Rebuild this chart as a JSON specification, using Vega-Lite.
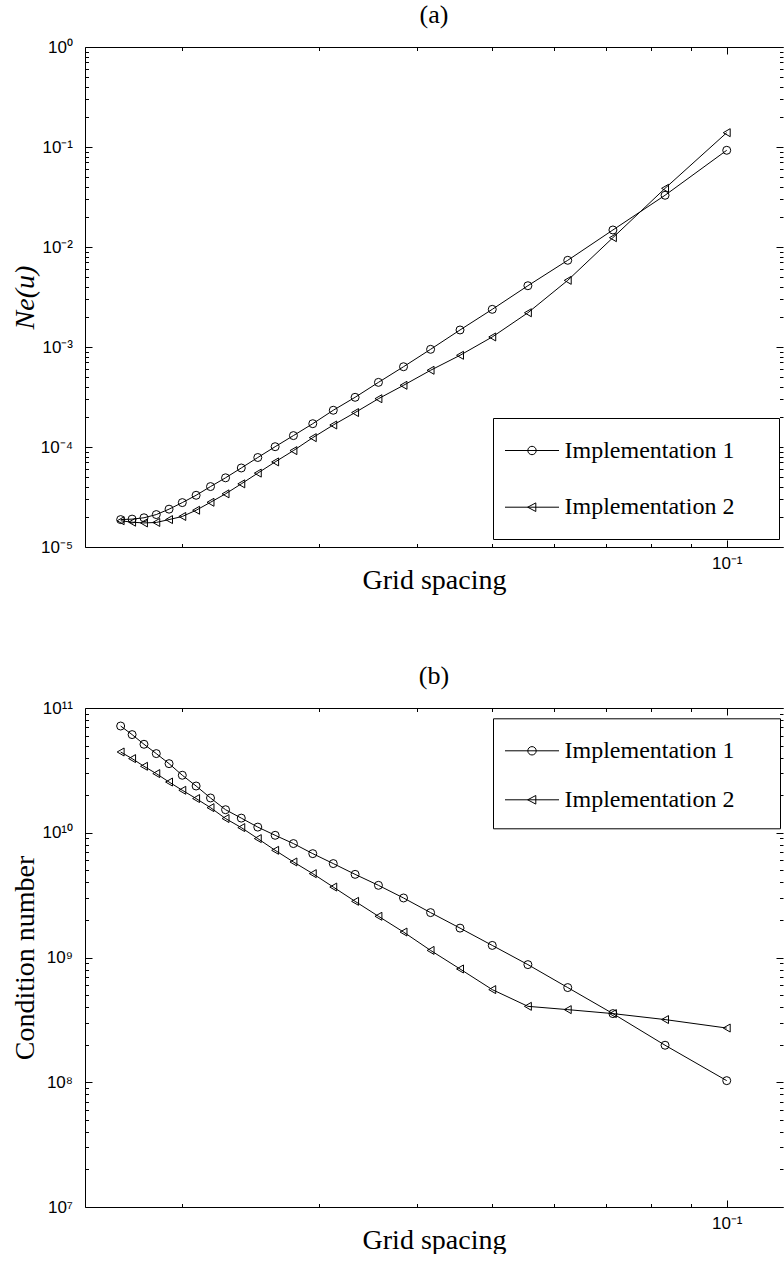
{
  "$schema": "https://vega.github.io/schema/vega-lite/v6.json",
  "padding": {"left": 11, "top": 2, "right": 0, "bottom": 0},
  "spacing": 69,
  "resolve": {"scale": {"shape": "independent"}, "legend": {"shape": "independent"}},
  "config": {
    "font": "Liberation Serif",
    "view": {"stroke": null},
    "axis": {"grid": false, "domainColor": "black", "domainWidth": 1, "tickColor": "black", "tickWidth": 1, "labelColor": "black", "labelFont": "Liberation Sans", "labelFontSize": 17, "titleColor": "black", "titleFont": "Liberation Serif", "titleFontSize": 28, "titleFontWeight": "normal"},
    "title": {"font": "Liberation Serif", "fontSize": 26, "fontWeight": "normal", "color": "black"},
    "legend": {"labelFont": "Liberation Serif", "labelFontSize": 24, "labelColor": "black", "labelLimit": 0, "strokeColor": "black", "fillColor": "white", "padding": 12, "labelOffset": 12, "symbolOffset": 6.5, "symbolSize": 1600, "symbolStrokeColor": "black", "symbolStrokeWidth": 1, "symbolFillColor": "transparent", "symbolOpacity": 1, "title": null}
  },
  "datasets": {
    "a": [
      {"h": 0.1, "impl": "Implementation 1", "v": 0.0927},
      {"h": 0.083333, "impl": "Implementation 1", "v": 0.0329},
      {"h": 0.071429, "impl": "Implementation 1", "v": 0.0148},
      {"h": 0.0625, "impl": "Implementation 1", "v": 0.00736},
      {"h": 0.055556, "impl": "Implementation 1", "v": 0.0041},
      {"h": 0.05, "impl": "Implementation 1", "v": 0.00238},
      {"h": 0.045455, "impl": "Implementation 1", "v": 0.00148},
      {"h": 0.041667, "impl": "Implementation 1", "v": 0.000948},
      {"h": 0.038462, "impl": "Implementation 1", "v": 0.000635},
      {"h": 0.035714, "impl": "Implementation 1", "v": 0.000443},
      {"h": 0.033333, "impl": "Implementation 1", "v": 0.000314},
      {"h": 0.03125, "impl": "Implementation 1", "v": 0.000233},
      {"h": 0.029412, "impl": "Implementation 1", "v": 0.000171},
      {"h": 0.027778, "impl": "Implementation 1", "v": 0.00013},
      {"h": 0.026316, "impl": "Implementation 1", "v": 0.0001007},
      {"h": 0.025, "impl": "Implementation 1", "v": 0.0000785},
      {"h": 0.02381, "impl": "Implementation 1", "v": 0.0000617},
      {"h": 0.022727, "impl": "Implementation 1", "v": 0.0000492},
      {"h": 0.021739, "impl": "Implementation 1", "v": 0.0000402},
      {"h": 0.020833, "impl": "Implementation 1", "v": 0.0000329},
      {"h": 0.02, "impl": "Implementation 1", "v": 0.0000278},
      {"h": 0.019231, "impl": "Implementation 1", "v": 0.0000239},
      {"h": 0.018519, "impl": "Implementation 1", "v": 0.0000211},
      {"h": 0.017857, "impl": "Implementation 1", "v": 0.0000196},
      {"h": 0.017241, "impl": "Implementation 1", "v": 0.000019},
      {"h": 0.016667, "impl": "Implementation 1", "v": 0.0000188},
      {"h": 0.1, "impl": "Implementation 2", "v": 0.139},
      {"h": 0.083333, "impl": "Implementation 2", "v": 0.0386},
      {"h": 0.071429, "impl": "Implementation 2", "v": 0.0124},
      {"h": 0.0625, "impl": "Implementation 2", "v": 0.00464},
      {"h": 0.055556, "impl": "Implementation 2", "v": 0.0022},
      {"h": 0.05, "impl": "Implementation 2", "v": 0.00126},
      {"h": 0.045455, "impl": "Implementation 2", "v": 0.000826},
      {"h": 0.041667, "impl": "Implementation 2", "v": 0.000585},
      {"h": 0.038462, "impl": "Implementation 2", "v": 0.000414},
      {"h": 0.035714, "impl": "Implementation 2", "v": 0.000304},
      {"h": 0.033333, "impl": "Implementation 2", "v": 0.000221},
      {"h": 0.03125, "impl": "Implementation 2", "v": 0.000166},
      {"h": 0.029412, "impl": "Implementation 2", "v": 0.000124},
      {"h": 0.027778, "impl": "Implementation 2", "v": 0.000092},
      {"h": 0.026316, "impl": "Implementation 2", "v": 0.0000709},
      {"h": 0.025, "impl": "Implementation 2", "v": 0.0000548},
      {"h": 0.02381, "impl": "Implementation 2", "v": 0.0000428},
      {"h": 0.022727, "impl": "Implementation 2", "v": 0.000034},
      {"h": 0.021739, "impl": "Implementation 2", "v": 0.000028},
      {"h": 0.020833, "impl": "Implementation 2", "v": 0.0000233},
      {"h": 0.02, "impl": "Implementation 2", "v": 0.0000202},
      {"h": 0.019231, "impl": "Implementation 2", "v": 0.0000188},
      {"h": 0.018519, "impl": "Implementation 2", "v": 0.0000176},
      {"h": 0.017857, "impl": "Implementation 2", "v": 0.0000174},
      {"h": 0.017241, "impl": "Implementation 2", "v": 0.0000177},
      {"h": 0.016667, "impl": "Implementation 2", "v": 0.0000183}
    ],
    "b": [
      {"h": 0.016667, "impl": "Implementation 1", "v": 71700000000},
      {"h": 0.017241, "impl": "Implementation 1", "v": 61200000000},
      {"h": 0.017857, "impl": "Implementation 1", "v": 51200000000},
      {"h": 0.018519, "impl": "Implementation 1", "v": 43100000000},
      {"h": 0.019231, "impl": "Implementation 1", "v": 35800000000},
      {"h": 0.02, "impl": "Implementation 1", "v": 28900000000},
      {"h": 0.020833, "impl": "Implementation 1", "v": 23700000000},
      {"h": 0.021739, "impl": "Implementation 1", "v": 19000000000},
      {"h": 0.022727, "impl": "Implementation 1", "v": 15300000000},
      {"h": 0.02381, "impl": "Implementation 1", "v": 13100000000},
      {"h": 0.025, "impl": "Implementation 1", "v": 11100000000},
      {"h": 0.026316, "impl": "Implementation 1", "v": 9540000000},
      {"h": 0.027778, "impl": "Implementation 1", "v": 8190000000},
      {"h": 0.029412, "impl": "Implementation 1", "v": 6800000000},
      {"h": 0.03125, "impl": "Implementation 1", "v": 5660000000},
      {"h": 0.033333, "impl": "Implementation 1", "v": 4640000000},
      {"h": 0.035714, "impl": "Implementation 1", "v": 3790000000},
      {"h": 0.038462, "impl": "Implementation 1", "v": 3000000000},
      {"h": 0.041667, "impl": "Implementation 1", "v": 2290000000},
      {"h": 0.045455, "impl": "Implementation 1", "v": 1720000000},
      {"h": 0.05, "impl": "Implementation 1", "v": 1250000000},
      {"h": 0.055556, "impl": "Implementation 1", "v": 877000000},
      {"h": 0.0625, "impl": "Implementation 1", "v": 574000000},
      {"h": 0.071429, "impl": "Implementation 1", "v": 355000000},
      {"h": 0.083333, "impl": "Implementation 1", "v": 198000000},
      {"h": 0.1, "impl": "Implementation 1", "v": 103000000},
      {"h": 0.016667, "impl": "Implementation 2", "v": 44400000000},
      {"h": 0.017241, "impl": "Implementation 2", "v": 39300000000},
      {"h": 0.017857, "impl": "Implementation 2", "v": 34100000000},
      {"h": 0.018519, "impl": "Implementation 2", "v": 29800000000},
      {"h": 0.019231, "impl": "Implementation 2", "v": 25500000000},
      {"h": 0.02, "impl": "Implementation 2", "v": 21900000000},
      {"h": 0.020833, "impl": "Implementation 2", "v": 18800000000},
      {"h": 0.021739, "impl": "Implementation 2", "v": 15900000000},
      {"h": 0.022727, "impl": "Implementation 2", "v": 13000000000},
      {"h": 0.02381, "impl": "Implementation 2", "v": 11000000000},
      {"h": 0.025, "impl": "Implementation 2", "v": 8980000000},
      {"h": 0.026316, "impl": "Implementation 2", "v": 7230000000},
      {"h": 0.027778, "impl": "Implementation 2", "v": 5830000000},
      {"h": 0.029412, "impl": "Implementation 2", "v": 4700000000},
      {"h": 0.03125, "impl": "Implementation 2", "v": 3670000000},
      {"h": 0.033333, "impl": "Implementation 2", "v": 2820000000},
      {"h": 0.035714, "impl": "Implementation 2", "v": 2140000000},
      {"h": 0.038462, "impl": "Implementation 2", "v": 1600000000},
      {"h": 0.041667, "impl": "Implementation 2", "v": 1140000000},
      {"h": 0.045455, "impl": "Implementation 2", "v": 809000000},
      {"h": 0.05, "impl": "Implementation 2", "v": 553000000},
      {"h": 0.055556, "impl": "Implementation 2", "v": 406000000},
      {"h": 0.0625, "impl": "Implementation 2", "v": 382000000},
      {"h": 0.071429, "impl": "Implementation 2", "v": 355000000},
      {"h": 0.083333, "impl": "Implementation 2", "v": 318000000},
      {"h": 0.1, "impl": "Implementation 2", "v": 272000000}
    ]
  },
  "vconcat": [
    {
      "title": {"text": "(a)", "offset": 10},
      "width": 698,
      "height": 500,
      "data": {"name": "a"},
      "layer": [
        {
          "mark": {"type": "line", "color": "black", "strokeWidth": 1},
          "encoding": {
            "x": {"field": "h", "type": "quantitative", "scale": {"type": "log", "domain": [0.015, 0.1181], "nice": false},
              "axis": {"orient": "top", "values": [0.02, 0.03, 0.04, 0.05, 0.06, 0.07, 0.08, 0.09, 0.1], "labels": false, "title": null, "domain": true,
                "tickSize": {"condition": {"test": "datum.value == 0.1", "value": -7}, "value": -3.5}}},
            "y": {"field": "v", "type": "quantitative", "scale": {"type": "log", "domain": [0.00001, 1], "nice": false},
              "axis": {"orient": "right", "values": [0.00001, 0.00002, 0.00003, 0.00004, 0.00005, 0.00006, 0.00007, 0.00008, 0.00009, 0.0001, 0.0002, 0.0003, 0.0004, 0.0005, 0.0006, 0.0007, 0.0008, 0.0009, 0.001, 0.002, 0.003, 0.004, 0.005, 0.006, 0.007, 0.008, 0.009, 0.01, 0.02, 0.03, 0.04, 0.05, 0.06, 0.07, 0.08, 0.09, 0.1, 0.2, 0.3, 0.4, 0.5, 0.6, 0.7, 0.8, 0.9, 1], "labels": false, "title": null, "domain": false,
                "tickSize": {"condition": {"test": "abs(log(datum.value)/LN10 - round(log(datum.value)/LN10)) < 0.001", "value": -7}, "value": -3.5}}},
            "detail": {"field": "impl"}
          }
        },
        {
          "mark": {"type": "point", "filled": false, "color": "black", "strokeWidth": 1, "size": 64, "opacity": 1},
          "encoding": {
            "x": {"field": "h", "type": "quantitative", "scale": {"type": "log", "domain": [0.015, 0.1181], "nice": false},
              "axis": {"orient": "bottom", "values": [0.02, 0.03, 0.04, 0.05, 0.06, 0.07, 0.08, 0.09, 0.1], "labelExpr": "datum.value == 0.1 ? '10⁻¹' : ''", "labelPadding": 15, "title": "Grid spacing", "titleY": 33, "titleBaseline": "middle",
                "tickSize": {"condition": {"test": "datum.value == 0.1", "value": -7}, "value": -3.5}}},
            "y": {"field": "v", "type": "quantitative", "scale": {"type": "log", "domain": [0.00001, 1], "nice": false},
              "axis": {"orient": "left", "values": [0.00001, 0.00002, 0.00003, 0.00004, 0.00005, 0.00006, 0.00007, 0.00008, 0.00009, 0.0001, 0.0002, 0.0003, 0.0004, 0.0005, 0.0006, 0.0007, 0.0008, 0.0009, 0.001, 0.002, 0.003, 0.004, 0.005, 0.006, 0.007, 0.008, 0.009, 0.01, 0.02, 0.03, 0.04, 0.05, 0.06, 0.07, 0.08, 0.09, 0.1, 0.2, 0.3, 0.4, 0.5, 0.6, 0.7, 0.8, 0.9, 1],
                "labelExpr": "abs(log(datum.value)/LN10 - round(log(datum.value)/LN10)) > 0.001 ? '' : '10' + (datum.value < 1 ? '⁻' : '') + (abs(round(log(datum.value)/LN10)) >= 10 ? '¹' : '') + substring('⁰¹²³⁴⁵⁶⁷⁸⁹', abs(round(log(datum.value)/LN10)) % 10, abs(round(log(datum.value)/LN10)) % 10 + 1)",
                "labelPadding": 19.5, "title": "Ne(u)", "titleFontStyle": "italic", "titleX": -60, "titleBaseline": "middle",
                "tickSize": {"condition": {"test": "abs(log(datum.value)/LN10 - round(log(datum.value)/LN10)) < 0.001", "value": -7}, "value": -3.5}}},
            "shape": {"field": "impl", "type": "nominal", "scale": {"domain": ["Implementation 1", "Implementation 2"], "range": ["circle", "triangle-left"]}, "legend": null}
          }
        },
        {
          "transform": [{"filter": "false"}],
          "mark": {"type": "point", "filled": false, "color": "black", "strokeWidth": 1, "opacity": 1},
          "encoding": {
            "x": {"field": "h", "type": "quantitative", "scale": {"type": "log", "domain": [0.015, 0.1181], "nice": false}, "axis": null},
            "y": {"field": "v", "type": "quantitative", "scale": {"type": "log", "domain": [0.00001, 1], "nice": false}, "axis": null},
            "shape": {"field": "impl", "type": "nominal",
              "scale": {"domain": ["Implementation 1", "Implementation 2"], "range": ["M11.65,0M0,0.89M-1.35,0H1.35M0.21,0A0.21,0.21,0,1,1,-0.21,0A0.21,0.21,0,1,1,0.21,0", "M11.65,0M0,0.89M-1.35,0H1.35M-0.215,0L0.19,-0.215L0.19,0.215Z"]},
              "legend": {"orient": "none", "legendX": 408, "legendY": 371, "rowPadding": 15.7}}
          }
        }
      ],
      "resolve": {"axis": {"x": "independent", "y": "independent"}, "scale": {"shape": "independent"}}
    },
    {
      "title": {"text": "(b)", "offset": 10},
      "width": 698,
      "height": 499,
      "data": {"name": "b"},
      "layer": [
        {
          "mark": {"type": "line", "color": "black", "strokeWidth": 1},
          "encoding": {
            "x": {"field": "h", "type": "quantitative", "scale": {"type": "log", "domain": [0.015, 0.1181], "nice": false},
              "axis": {"orient": "top", "values": [0.02, 0.03, 0.04, 0.05, 0.06, 0.07, 0.08, 0.09, 0.1], "labels": false, "title": null, "domain": true,
                "tickSize": {"condition": {"test": "datum.value == 0.1", "value": -7}, "value": -3.5}}},
            "y": {"field": "v", "type": "quantitative", "scale": {"type": "log", "domain": [10000000, 100000000000], "nice": false},
              "axis": {"orient": "right", "values": [10000000, 20000000, 30000000, 40000000, 50000000, 60000000, 70000000, 80000000, 90000000, 100000000, 200000000, 300000000, 400000000, 500000000, 600000000, 700000000, 800000000, 900000000, 1000000000, 2000000000, 3000000000, 4000000000, 5000000000, 6000000000, 7000000000, 8000000000, 9000000000, 10000000000, 20000000000, 30000000000, 40000000000, 50000000000, 60000000000, 70000000000, 80000000000, 90000000000, 100000000000], "labels": false, "title": null, "domain": false,
                "tickSize": {"condition": {"test": "abs(log(datum.value)/LN10 - round(log(datum.value)/LN10)) < 0.001", "value": -7}, "value": -3.5}}},
            "detail": {"field": "impl"}
          }
        },
        {
          "mark": {"type": "point", "filled": false, "color": "black", "strokeWidth": 1, "size": 64, "opacity": 1},
          "encoding": {
            "x": {"field": "h", "type": "quantitative", "scale": {"type": "log", "domain": [0.015, 0.1181], "nice": false},
              "axis": {"orient": "bottom", "values": [0.02, 0.03, 0.04, 0.05, 0.06, 0.07, 0.08, 0.09, 0.1], "labelExpr": "datum.value == 0.1 ? '10⁻¹' : ''", "labelPadding": 15, "title": "Grid spacing", "titleY": 33, "titleBaseline": "middle",
                "tickSize": {"condition": {"test": "datum.value == 0.1", "value": -7}, "value": -3.5}}},
            "y": {"field": "v", "type": "quantitative", "scale": {"type": "log", "domain": [10000000, 100000000000], "nice": false},
              "axis": {"orient": "left", "values": [10000000, 20000000, 30000000, 40000000, 50000000, 60000000, 70000000, 80000000, 90000000, 100000000, 200000000, 300000000, 400000000, 500000000, 600000000, 700000000, 800000000, 900000000, 1000000000, 2000000000, 3000000000, 4000000000, 5000000000, 6000000000, 7000000000, 8000000000, 9000000000, 10000000000, 20000000000, 30000000000, 40000000000, 50000000000, 60000000000, 70000000000, 80000000000, 90000000000, 100000000000],
                "labelExpr": "abs(log(datum.value)/LN10 - round(log(datum.value)/LN10)) > 0.001 ? '' : '10' + (datum.value < 1 ? '⁻' : '') + (abs(round(log(datum.value)/LN10)) >= 10 ? '¹' : '') + substring('⁰¹²³⁴⁵⁶⁷⁸⁹', abs(round(log(datum.value)/LN10)) % 10, abs(round(log(datum.value)/LN10)) % 10 + 1)",
                "labelPadding": 19.5, "title": "Condition number", "titleX": -60, "titleBaseline": "middle",
                "tickSize": {"condition": {"test": "abs(log(datum.value)/LN10 - round(log(datum.value)/LN10)) < 0.001", "value": -7}, "value": -3.5}}},
            "shape": {"field": "impl", "type": "nominal", "scale": {"domain": ["Implementation 1", "Implementation 2"], "range": ["circle", "triangle-left"]}, "legend": null}
          }
        },
        {
          "transform": [{"filter": "false"}],
          "mark": {"type": "point", "filled": false, "color": "black", "strokeWidth": 1, "opacity": 1},
          "encoding": {
            "x": {"field": "h", "type": "quantitative", "scale": {"type": "log", "domain": [0.015, 0.1181], "nice": false}, "axis": null},
            "y": {"field": "v", "type": "quantitative", "scale": {"type": "log", "domain": [10000000, 100000000000], "nice": false}, "axis": null},
            "shape": {"field": "impl", "type": "nominal",
              "scale": {"domain": ["Implementation 1", "Implementation 2"], "range": ["M11.7,0M0,0.725M-1.35,0H1.35M0.21,0A0.21,0.21,0,1,1,-0.21,0A0.21,0.21,0,1,1,0.21,0", "M11.7,0M0,0.725M-1.35,0H1.35M-0.215,0L0.19,-0.215L0.19,0.215Z"]},
              "legend": {"orient": "none", "legendX": 408, "legendY": 10.3, "rowPadding": 12}}
          }
        }
      ],
      "resolve": {"axis": {"x": "independent", "y": "independent"}, "scale": {"shape": "independent"}}
    }
  ]
}
